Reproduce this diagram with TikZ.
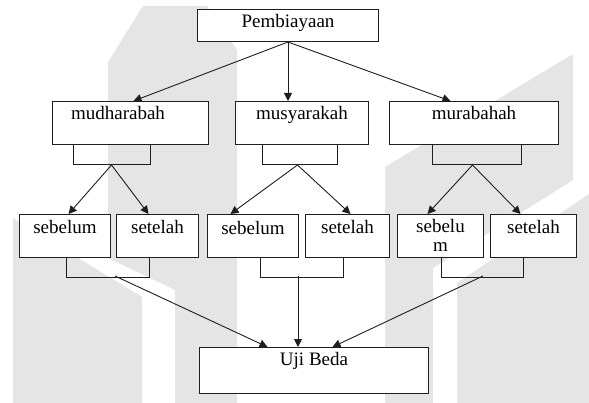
\documentclass[tikz,border=0pt]{standalone}
\usepackage{fontspec}
\setmainfont{Liberation Serif}
\usetikzlibrary{arrows.meta}
\definecolor{wm}{RGB}{229,229,229}
\definecolor{ln}{RGB}{30,30,30}
\begin{document}
\begin{tikzpicture}[x=1pt,y=-1pt,
  box/.style={draw=ln, line width=1pt, fill=white, inner sep=0pt,
    font=\fontsize{19}{17}\selectfont, anchor=north west},
  subbox/.style={draw=ln, line width=1pt, inner sep=0pt, anchor=north west,
    minimum height=20pt},
  arr/.style={draw=ln, line width=0.9pt, -{Triangle[length=8pt,width=8pt]}},
  brk/.style={draw=ln, line width=0.9pt}]
\useasboundingbox (0,0) rectangle (589,403);
% watermark
\fill[wm] (143,6) -- (207,6) -- (237,50) -- (237,403) -- (175,403) -- (175,290)
  -- (108,258) -- (108,62) -- cycle;
\fill[wm] (13,218) -- (142,297) -- (142,403) -- (13,403) -- cycle;
\fill[wm] (385,167) -- (573,54) -- (573,180) -- (433,268) -- (433,403)
  -- (385,403) -- cycle;
\fill[wm] (457,283) -- (589,194) -- (589,403) -- (457,403) -- cycle;
% boxes
\node[box, minimum width=181pt, text height=18pt, text depth=14pt] (P) at (197,9) {Pembiayaan};
\node[box, minimum width=156pt, text height=18pt, text depth=25pt] (M1) at (52,101) {mudharabah\hspace*{25pt}};
\node[box, minimum width=133pt, text height=18pt, text depth=25pt] (M2) at (235,101) {musyarakah};
\node[box, minimum width=169pt, text height=18pt, text depth=25pt] (M3) at (389,101) {murabahah};
\node[subbox, minimum width=77pt] (sb1) at (73,144) {};
\node[subbox, minimum width=75pt] (sb2) at (262,144) {};
\node[subbox, minimum width=89pt] (sb3) at (432,144) {};
\node[box, minimum width=91pt, text height=19pt, text depth=24pt] (S1) at (19,214) {sebelum};
\node[box, minimum width=82pt, text height=19pt, text depth=24pt] (T1) at (116,214) {setelah};
\node[box, minimum width=91pt, text height=20pt, text depth=23pt] (S2) at (207,214) {sebelum};
\node[box, minimum width=84pt, text height=19pt, text depth=24pt] (T2) at (305,214) {setelah};
\node[box, minimum width=86pt, text height=18pt, text depth=25pt] (S3) at (397,214) {\parbox[t]{80pt}{\fontsize{19}{19}\selectfont\centering sebelu\\m}};
\node[box, minimum width=86pt, text height=19pt, text depth=24pt] (T3) at (490,214) {setelah};
\node[box, minimum width=229pt, text height=18pt, text depth=28pt] (U) at (199,347) {Uji Beda};
% top arrows
\draw[arr] (P.south) -- ([xshift=3pt]M1.north);
\draw[arr] (P.south) -- (P.south |- M2.north);
\draw[arr] (P.south) -- ([xshift=-23.5pt]M3.north);
% sub-box arrows
\draw[arr] ([xshift=-0.5pt]sb1.south) -- ([xshift=3.5pt]S1.north);
\draw[arr] ([xshift=-0.5pt]sb1.south) -- ([xshift=-9pt]T1.north);
\draw[arr] ([xshift=-2.5pt]sb2.south) -- ([xshift=-22.5pt]S2.north);
\draw[arr] ([xshift=-2.5pt]sb2.south) -- ([xshift=3pt]T2.north);
\draw[arr] ([xshift=-4.5pt]sb3.south) -- ([xshift=-13pt]S3.north);
\draw[arr] ([xshift=-4.5pt]sb3.south) -- ([xshift=-13pt]T3.north);
% brackets
\draw[brk] ([xshift=1.5pt]S1.south) -- ++(0,19) -| ([xshift=-8pt]T1.south);
\draw[brk] ([xshift=7.5pt]S2.south) -- ++(0,19) -| ([xshift=-4pt]T2.south);
\draw[brk] ([xshift=1pt]S3.south) -- ++(0,19) -| ([xshift=-10pt]T3.south);
\coordinate (c1) at (115,276);
\coordinate (c2) at (298,276);
\coordinate (c3) at (483,276);
\draw[arr] (c1) -- ([xshift=-46.5pt]U.north);
\draw[arr] (c2) -- (c2 |- U.north);
\draw[arr] (c3) -- ([xshift=18.5pt]U.north);
\end{tikzpicture}
\end{document}
